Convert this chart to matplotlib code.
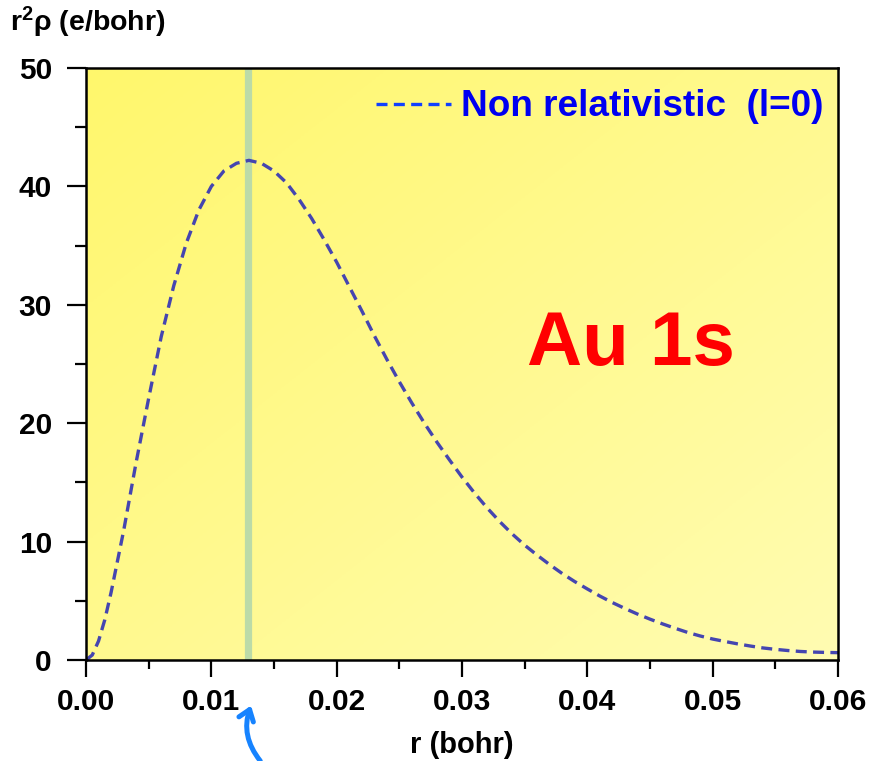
import numpy as np
import matplotlib
matplotlib.use("Agg")
import matplotlib.pyplot as plt
from matplotlib.lines import Line2D

# ---- data ----
r_vals = [0.0000, 0.0005, 0.0010, 0.0015, 0.0020, 0.0030, 0.0040, 0.0050, 0.0060,
          0.0070, 0.0080, 0.0090, 0.0100, 0.0110, 0.0120, 0.0130, 0.0140, 0.0150,
          0.0160, 0.0170, 0.0180, 0.0190, 0.0200, 0.0210, 0.0220, 0.0230, 0.0240,
          0.0250, 0.0260, 0.0270, 0.0280, 0.0290, 0.0300, 0.0310, 0.0320, 0.0330,
          0.0340, 0.0350, 0.0360, 0.0370, 0.0380, 0.0390, 0.0400, 0.0410, 0.0420,
          0.0430, 0.0440, 0.0450, 0.0460, 0.0470, 0.0480, 0.0490, 0.0500, 0.0510,
          0.0520, 0.0530, 0.0540, 0.0550, 0.0560, 0.0570, 0.0580, 0.0590, 0.0600]
density = [0.0, 0.42, 1.6, 3.4, 5.7, 10.9, 16.7, 22.1, 27.3,
           31.6, 35.2, 38.0, 40.0, 41.3, 41.95, 42.2, 41.95, 41.3,
           40.3, 38.9, 37.3, 35.5, 33.6, 31.55, 29.5, 27.4, 25.4,
           23.5, 21.7, 20.0, 18.4, 16.9, 15.45, 14.1, 12.85, 11.7,
           10.65, 9.7, 8.85, 8.05, 7.3, 6.62, 6.0, 5.4, 4.85,
           4.35, 3.88, 3.45, 3.05, 2.68, 2.33, 2.03, 1.77, 1.56,
           1.36, 1.18, 1.02, 0.9, 0.8, 0.72, 0.67, 0.64, 0.62]
r_max_marker = 0.0129
x_ticks = [0.00, 0.01, 0.02, 0.03, 0.04, 0.05, 0.06]
x_tick_labels = ["0.00", "0.01", "0.02", "0.03", "0.04", "0.05", "0.06"]
y_ticks = [0, 10, 20, 30, 40, 50]
series_label = "Non relativistic  (l=0)"
title_text = "Au 1s"

FONT = "Liberation Sans"
plt.rcParams['font.family'] = [FONT, 'DejaVu Sans']
plt.rcParams['mathtext.fontset'] = 'custom'
plt.rcParams['mathtext.rm'] = FONT + ':bold'
plt.rcParams['mathtext.bf'] = FONT + ':bold'
plt.rcParams['mathtext.it'] = FONT + ':bold'

fig = plt.figure(figsize=(8.69, 7.61), dpi=100)
ax = fig.add_axes([86/869, 1-660/761, (838-86)/869, (660-68)/761])

# gradient background (saturated top-left, pale bottom-right)
n = 200
xx, yy = np.meshgrid(np.linspace(0, 1, n), np.linspace(0, 1, n))
t = (xx + yy) / 2.0  # row 0 is top (origin='upper'): 0 at top-left
c0 = np.array([255, 247, 108]) / 255.0
c1 = np.array([255, 252, 178]) / 255.0
img = c0[None, None, :] * (1 - t[..., None]) + c1[None, None, :] * t[..., None]
ax.imshow(img, extent=[0, 1, 0, 1], transform=ax.transAxes, aspect='auto',
          origin='upper', zorder=0)

ax.set_xlim(0, 0.06)
ax.set_ylim(0, 50)

ax.axvline(r_max_marker, color='#bcdba8', lw=5.2, zorder=1)

ax.plot(r_vals, density, color='#4545b0', lw=2.4, dashes=(3.3, 1.9), zorder=3,
        dash_capstyle='butt', dash_joinstyle='round')

# ticks
ax.set_xticks(x_ticks)
ax.set_xticklabels(x_tick_labels)
ax.set_yticks(y_ticks)
ax.set_xticks(np.arange(0.005, 0.06, 0.01), minor=True)
ax.set_yticks(np.arange(5, 50, 10), minor=True)
ax.tick_params(axis='both', which='major', direction='out', width=1.6,
               labelsize=21.5, colors='black')
ax.tick_params(axis='y', which='major', length=13.5, pad=11)
ax.tick_params(axis='y', which='minor', length=8, width=1.6)
ax.tick_params(axis='x', which='major', length=12.5, pad=8)
ax.tick_params(axis='x', which='minor', length=6.5, width=1.6)
for lab in ax.get_xticklabels() + ax.get_yticklabels():
    lab.set_fontweight('bold')
for s in ax.spines.values():
    s.set_linewidth(1.8)
    s.set_color('black')
    s.set_zorder(5)

# axis labels
fig.text(462/869, 1-745/761, "r (bohr)", ha='center', va='center',
         fontsize=21, fontweight='bold')
fig.text(10/869, 1-22/761, r"r$^{\mathbf{2}}$ρ (e/bohr)", ha='left', va='center',
         fontsize=20.5, fontweight='bold')

# legend (manual)
ax.add_line(Line2D([(376-86)/752, (451-86)/752], [(660-104)/592, (660-104)/592],
                   transform=ax.transAxes, color='#1040ff', lw=2.4,
                   dashes=(3.3, 1.9), zorder=4))
ax.text((461-86)/752, (660-106)/592, series_label, transform=ax.transAxes,
        ha='left', va='center', fontsize=26.6, fontweight='bold', color='#0000f0',
        zorder=4)

# big label
ax.text((631-86)/752, (660-346)/592, title_text, transform=ax.transAxes,
        ha='center', va='center', fontsize=55, fontweight='bold', color='#ff0000',
        zorder=4)

# arrow below axis
ax.annotate('', xy=(252/869, 1-703/761), xytext=(262/869, 1-763/761),
            xycoords='figure fraction', textcoords='figure fraction',
            arrowprops=dict(arrowstyle='->,head_length=0.75,head_width=0.55',
                            connectionstyle='arc3,rad=-0.3',
                            color='#1683ff', lw=3.6, capstyle='round',
                            joinstyle='round'),
            annotation_clip=False)

fig.savefig("out.png", dpi=100)
